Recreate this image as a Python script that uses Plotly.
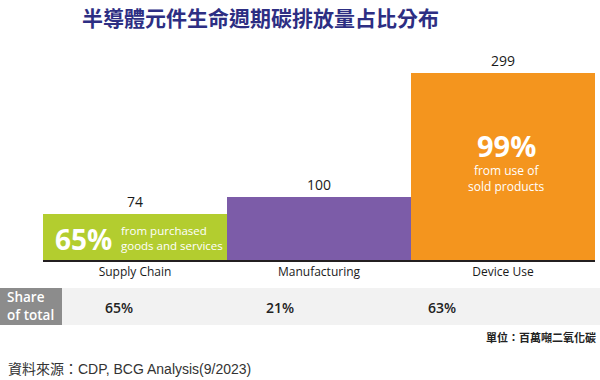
import plotly.graph_objects as go

# ---- data ----
categories = ["Supply Chain", "Manufacturing", "Device Use"]
emissions = [74, 100, 299]
share_of_total = ["65%", "21%", "63%"]
bar_colors = ["#b3cd2f", "#7c5ca8", "#f4951e"]
title_text = "半導體元件生命週期碳排放量占比分布"
unit_text = "單位：百萬噸二氧化碳"
source_text = "資料來源：CDP, BCG Analysis(9/2023)"
green_big = "65%"
green_small = "from purchased<br>goods and services"
orange_big = "99%"
orange_small = "from use of<br>sold products"

W, H = 600, 380


def px(x):
    return x / W


def py(y):
    return 1 - y / H


fig = go.Figure()
fig.add_trace(go.Bar(
    x=categories,
    y=emissions,
    marker=dict(color=bar_colors, line=dict(width=0)),
    text=[str(v) for v in emissions],
    textposition="outside",
    textfont=dict(family="Open Sans", size=14, color="#1a1a1a"),
    cliponaxis=False,
    hoverinfo="skip",
))

annotations = []
# title
annotations.append(dict(
    text=title_text, xref="paper", yref="paper", x=px(260), y=py(17),
    xanchor="center", yanchor="middle", showarrow=False,
    font=dict(family="Noto Sans CJK TC", size=21, color="#2d2e83", weight="bold"),
))
# in-bar labels (green)
annotations.append(dict(
    text=green_big, xref="x", yref="paper", x=categories[0], y=py(239),
    xanchor="right", yanchor="middle", xshift=-21, showarrow=False,
    font=dict(family="Open Sans", size=28, color="white", weight="bold"),
))
annotations.append(dict(
    text=green_small, xref="x", yref="paper", x=categories[0], y=py(238),
    xanchor="left", yanchor="middle", xshift=-16, showarrow=False, align="left",
    font=dict(family="Open Sans", size=11.5, color="white"),
))
# in-bar labels (orange)
annotations.append(dict(
    text=orange_big, xref="x", yref="paper", x=categories[2], y=py(145),
    xanchor="center", yanchor="middle", xshift=3, showarrow=False,
    font=dict(family="Open Sans", size=29, color="white", weight="bold"),
))
annotations.append(dict(
    text=orange_small, xref="x", yref="paper", x=categories[2], y=py(178.5),
    xanchor="center", yanchor="middle", xshift=3, showarrow=False, align="center",
    font=dict(family="Open Sans", size=12, color="white"),
))
# share row
annotations.append(dict(
    text="Share<br>of total", xref="paper", yref="paper", x=px(5), y=py(306),
    xanchor="left", yanchor="middle", showarrow=False, align="left",
    font=dict(family="Open Sans", size=13.5, color="white", weight=600),
))
share_x_px = [119, 280, 442]
for sx, s in zip(share_x_px, share_of_total):
    annotations.append(dict(
        text=s, xref="paper", yref="paper", x=px(sx), y=py(307),
        xanchor="center", yanchor="middle", showarrow=False,
        font=dict(family="Open Sans", size=14, color="#222222", weight=600),
    ))
# unit
annotations.append(dict(
    text=unit_text, xref="paper", yref="paper", x=px(598), y=py(337),
    xanchor="right", yanchor="middle", showarrow=False,
    font=dict(family="Noto Sans CJK TC", size=11, color="#222222", weight="bold"),
))
# source
annotations.append(dict(
    text=source_text, xref="paper", yref="paper", x=px(6), y=py(369),
    xanchor="left", yanchor="middle", showarrow=False,
    font=dict(family="Liberation Sans, Noto Sans CJK TC", size=14, color="#333333"),
))

shapes = [
    dict(type="rect", xref="paper", yref="paper", x0=px(62), x1=px(600),
         y0=py(325), y1=py(288), fillcolor="#f2f2f2", line=dict(width=0), layer="below"),
    dict(type="rect", xref="paper", yref="paper", x0=px(0), x1=px(62),
         y0=py(325), y1=py(288), fillcolor="#8c8c8c", line=dict(width=0), layer="below"),
]

fig.update_layout(
    width=W, height=H,
    margin=dict(l=0, r=0, t=0, b=0),
    paper_bgcolor="white", plot_bgcolor="white",
    bargap=0, showlegend=False,
    annotations=annotations, shapes=shapes,
    xaxis=dict(
        domain=[px(43), px(595)], range=[-0.5, 2.5],
        showline=True, linecolor="#231f20", linewidth=2,
        showgrid=False, zeroline=False, ticks="",
        tickfont=dict(family="Open Sans", size=12, color="#1a1a1a"),
    ),
    yaxis=dict(
        domain=[py(260), py(40)], range=[0, 351.2],
        visible=False, showgrid=False, zeroline=False,
    ),
)

fig.write_html(
    "out.html",
    config={"displayModeBar": False},
    post_script="document.body.style.margin='0';document.body.style.overflow='hidden';",
)
